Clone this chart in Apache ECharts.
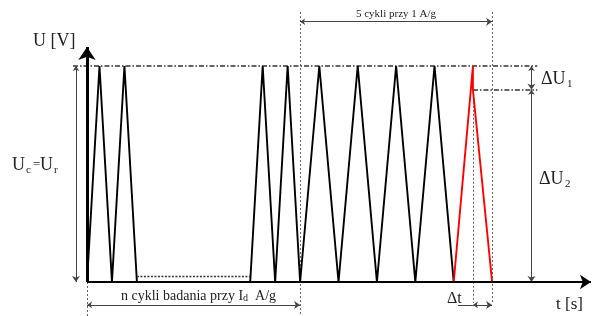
<!DOCTYPE html>
<html><head><meta charset="utf-8">
<script src="https://cdn.jsdelivr.net/npm/echarts@6/dist/echarts.min.js"></script>
<style>html,body{margin:0;padding:0;background:#fff}#c{width:593px;height:316px}</style>
</head><body><div id="c"></div>
<script>
// Waveform data: time in arbitrary units, voltage normalised to U_max = 1
const firstBlockT = [0, 1.3, 2.6, 3.9, 5.2];
const firstBlockU = [0, 1, 0, 1, 0];
const restT = [5.2, 17];
const restU = [0.025, 0.025];
const secondBlockT = [17, 18.3, 19.6, 20.9, 22.2, 24.2, 26.2, 28.2, 30.2, 32.2, 34.2, 36.2, 38.2];
const secondBlockU = [0, 1, 0, 1, 0, 1, 0, 1, 0, 1, 0, 1, 0];
const lastCycleT = [38.2, 40.2, 40.2, 42.2];
const lastCycleU = [0, 1, 0.89, 0];
// key levels / instants used by the annotations
const uMax = 1;
const uDrop = 0.89;
const tFiveStart = 22.2;
const tFiveEnd = 42.2;
const tLastPeak = 40.2;

const pairs = (ts, us) => ts.map((t, i) => [t, us[i]]);
const FONT = '"Liberation Serif", serif';

const chart = echarts.init(document.getElementById('c'), null, {renderer: 'canvas'});

const dotted = {type: [2, 2], width: 1, color: '#666', opacity: 1};
const dashDot = {type: [5, 2, 1.5, 2], width: 1.5, color: '#333', opacity: 1};

const option = {
  animation: false,
  backgroundColor: '#fff',
  grid: {left: 0, right: 0, top: 0, bottom: 0},
  xAxis: {type: 'value', min: -9.0625, max: 52.708, show: false},
  yAxis: {type: 'value', min: -0.1574, max: 1.3056, show: false},
  series: [
    // helper lines (no arrows)
    {
      type: 'lines', coordinateSystem: 'cartesian2d', symbol: 'none', z: 1,
      lineStyle: {opacity: 1},
      data: [
        {coords: [[tFiveStart, 1.25], [tFiveStart, -0.16]], lineStyle: dotted},
        {coords: [[tFiveEnd, 1.25], [tFiveEnd, -0.097]], lineStyle: dotted},
        {coords: [[tLastPeak, uDrop], [tLastPeak, -0.097]], lineStyle: dotted},
        {coords: [[0, 0], [0, -0.16]], lineStyle: dotted},
        {coords: [[-1.46, uMax], [46.9, uMax]], lineStyle: dashDot},
        {coords: [[tLastPeak, uDrop], [46.9, uDrop]], lineStyle: dashDot},
        {coords: [[38.65, -0.106], [tLastPeak, -0.106]], lineStyle: {width: 1, color: '#444', opacity: 1}}
      ]
    },
    // double-headed dimension arrows
    {
      type: 'lines', coordinateSystem: 'cartesian2d', symbol: ['arrow', 'arrow'], symbolSize: [5, 6], z: 2,
      lineStyle: {width: 1, color: '#444', opacity: 1},
      data: [
        {coords: [[-1.15, uMax], [-1.15, 0]]},
        {coords: [[46.3, uMax], [46.3, uDrop]]},
        {coords: [[46.3, uDrop], [46.3, 0]]},
        {coords: [[tFiveStart, 1.205], [tFiveEnd, 1.205]]},
        {coords: [[0, -0.106], [tFiveStart, -0.106]]},
        {coords: [[tLastPeak, -0.106], [tFiveEnd, -0.106]]}
      ]
    },
    // U axis
    {
      type: 'lines', coordinateSystem: 'cartesian2d', symbol: ['none', 'arrow'], symbolSize: [11, 13], z: 4,
      lineStyle: {width: 3, color: '#000', opacity: 1},
      data: [{coords: [[0, 0], [0, 1.088]]}]
    },
    // t axis
    {
      type: 'lines', coordinateSystem: 'cartesian2d', symbol: ['none', 'arrow'], symbolSize: [9, 11], z: 4,
      lineStyle: {width: 2, color: '#000', opacity: 1},
      data: [{coords: [[0, 0], [52.5, 0]]}]
    },
    // waveform
    {type: 'line', data: pairs(firstBlockT, firstBlockU), symbol: 'none', z: 3,
      lineStyle: {color: '#000', width: 1.9}},
    {type: 'line', data: pairs(restT, restU), symbol: 'none', z: 3,
      lineStyle: {color: '#333', width: 1.5, type: [2, 1.5]}},
    {type: 'line', data: pairs(secondBlockT, secondBlockU), symbol: 'none', z: 3,
      lineStyle: {color: '#000', width: 1.9}},
    {type: 'line', data: pairs(lastCycleT, lastCycleU), symbol: 'none', z: 3,
      lineStyle: {color: '#ff0000', width: 1.9}}
  ],
  graphic: [
    {type: 'text', left: 33, top: 32, style: {text: 'U [V]', font: '18px ' + FONT, fill: '#222'}},
    {type: 'text', x: 12, y: 156, style: {text: 'U', font: '18px ' + FONT, fill: '#222'}},
    {type: 'text', x: 26, y: 165, style: {text: 'c', font: '11px ' + FONT, fill: '#222'}},
    {type: 'text', x: 33, y: 158, style: {text: '=', font: '13px ' + FONT, fill: '#222'}},
    {type: 'text', x: 40, y: 156, style: {text: 'U', font: '18px ' + FONT, fill: '#222'}},
    {type: 'text', x: 54, y: 165, style: {text: 'r', font: '11px ' + FONT, fill: '#222'}},
    {type: 'text', x: 541, y: 70, style: {text: 'ΔU', font: '18px ' + FONT, fill: '#222'}},
    {type: 'text', x: 567, y: 79, style: {text: '1', font: '11px ' + FONT, fill: '#222'}},
    {type: 'text', x: 539, y: 170, style: {text: 'ΔU', font: '18px ' + FONT, fill: '#222'}},
    {type: 'text', x: 565, y: 179, style: {text: '2', font: '11px ' + FONT, fill: '#222'}},
    {type: 'text', x: 447, y: 291, style: {text: 'Δt', font: '16px ' + FONT, fill: '#222'}},
    {type: 'text', x: 556, y: 296, style: {text: 't [s]', font: '17px ' + FONT, fill: '#222'}},
    {type: 'text', x: 396, y: 14, style: {text: '5 cykli przy 1 A/g', font: '11px ' + FONT, fill: '#222', align: 'center', verticalAlign: 'middle'}},
    {type: 'text', x: 121, y: 288, style: {
      text: '{m|n cykli badania przy I}{s|d}{m|  A/g}',
      rich: {
        m: {fontSize: 14, fontFamily: FONT, fill: '#222', lineHeight: 15, verticalAlign: 'bottom'},
        s: {fontSize: 10, fontFamily: FONT, fill: '#222', lineHeight: 15, verticalAlign: 'bottom'}
      }
    }}
  ]
};
chart.setOption(option);
</script>
</body></html>
